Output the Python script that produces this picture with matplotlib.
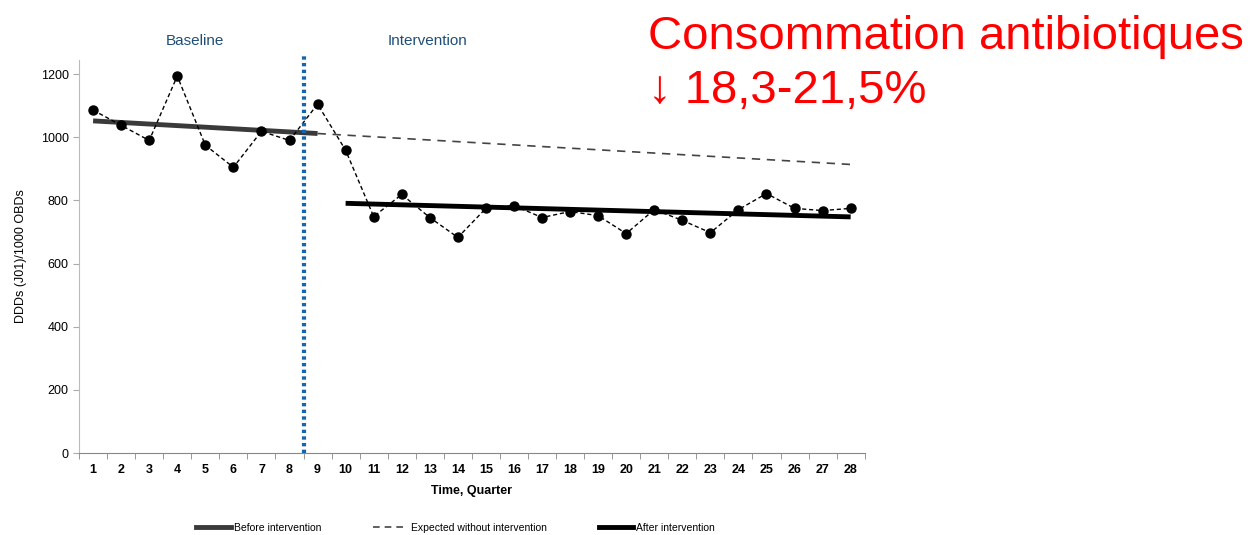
import numpy as np
import matplotlib.pyplot as plt
from matplotlib.lines import Line2D

# Donnees
quarters = np.arange(1, 29)
ddds = [1086, 1038, 990, 1194, 975, 905, 1019, 990, 1105, 959,
        749, 819, 746, 683, 775, 784, 746, 765, 752, 695,
        771, 737, 698, 771, 822, 775, 768, 775]

before_x = [1, 9]
before_y = [1052, 1012]
expected_x = [9, 28]
expected_y = [1012, 914]
after_x = [10, 28]
after_y = [791, 748]

plt.rcParams['font.family'] = ['Liberation Sans', 'DejaVu Sans']

fig = plt.figure(figsize=(12.55, 5.35), dpi=100)
ax = fig.add_axes([0.063, 0.153, 0.626, 0.735])

ax.plot(quarters, ddds, 'k--', lw=1, marker='o', ms=6.5, dashes=(3, 2), zorder=4)
ax.plot(before_x, before_y, color='#3a3a3a', lw=3.5, solid_capstyle='butt', zorder=3)
ax.plot(expected_x, expected_y, color='#444444', lw=1.2, ls=(0, (5, 4)), zorder=2)
ax.plot(after_x, after_y, color='black', lw=3.5, solid_capstyle='butt', zorder=3)
ax.plot([8.5, 8.5], [0, 1260], color='#1565b0', lw=3, ls=(0, (0.8, 0.8)), zorder=5, clip_on=False)

ax.set_xlim(0.5, 28.5)
ax.set_ylim(0, 1245)
ax.set_xticks(quarters)
ax.set_xticklabels([str(q) for q in quarters], fontsize=9, fontweight='bold')
ax.set_xticks(np.arange(0.5, 29, 1), minor=True)
ax.tick_params(axis='x', which='major', length=0, pad=8)
ax.tick_params(axis='x', which='minor', length=4, color='#888888')
ax.set_yticks(range(0, 1201, 200))
ax.tick_params(axis='y', labelsize=9, length=4, color='#aaaaaa')

for s in ['top', 'right']:
    ax.spines[s].set_visible(False)
ax.spines['left'].set_color('#bbbbbb')
ax.spines['bottom'].set_color('#888888')

ax.set_xlabel("Time, Quarter", fontsize=9, fontweight='bold', labelpad=6)
ax.set_ylabel("DDDs (J01)/1000 OBDs", fontsize=9, labelpad=10)

fig.text(0.155, 0.923, "Baseline", color='#1f4e79', fontsize=11, ha='center', va='center')
fig.text(0.341, 0.923, "Intervention", color='#1f4e79', fontsize=11, ha='center', va='center')

handles = [Line2D([], [], color='#3a3a3a', lw=3.5),
           Line2D([], [], color='#444444', lw=1.2, ls=(0, (4, 3))),
           Line2D([], [], color='black', lw=3.5)]
fig.legend(handles, ["Before intervention", "Expected without intervention", "After intervention"],
           loc='center', bbox_to_anchor=(0.363, 0.013), ncol=3, frameon=False,
           fontsize=7.5, handlelength=3.3, columnspacing=5, handletextpad=0.3)

fig.text(0.516, 0.93, "Consommation antibiotiques", color='red', fontsize=34, ha='left', va='center')
fig.text(0.516, 0.83, "\u2193 18,3-21,5%", color='red', fontsize=34, ha='left', va='center')

plt.savefig("out.png", dpi=100)
